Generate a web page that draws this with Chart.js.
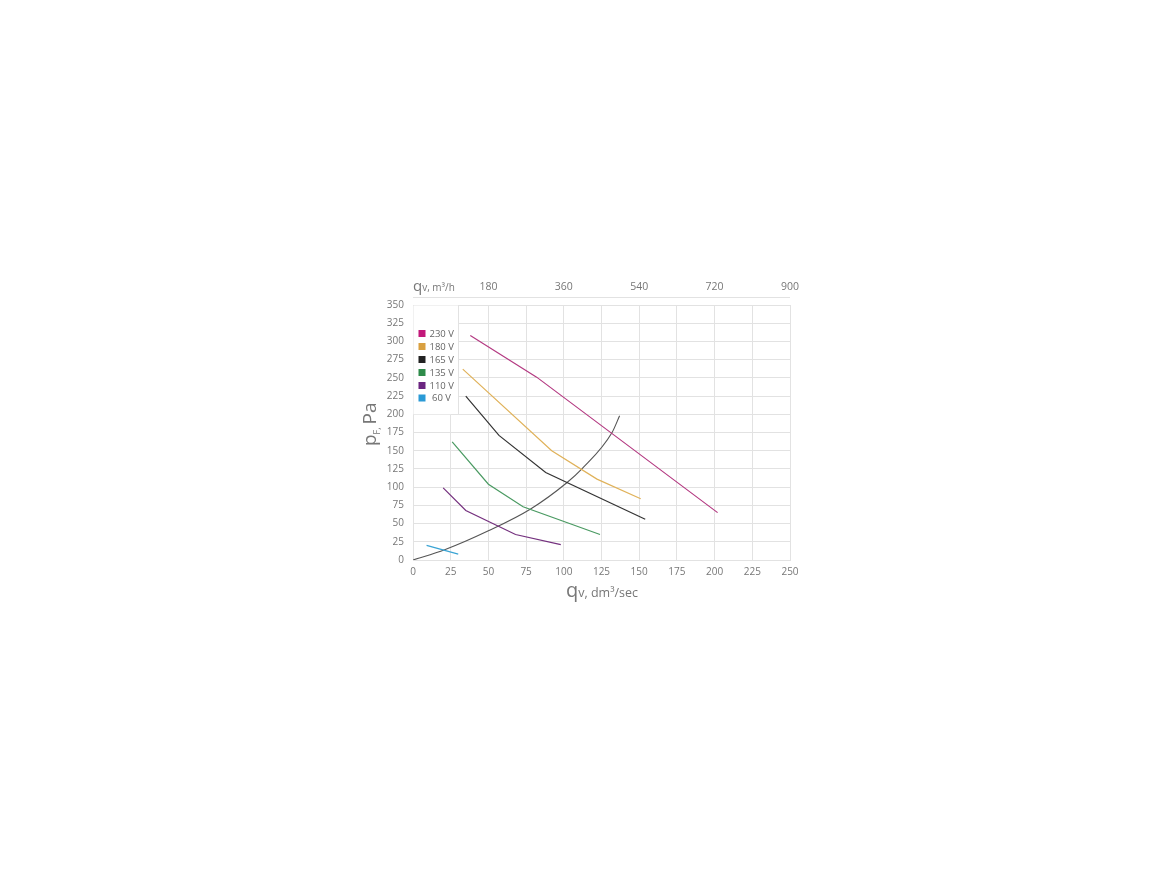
<!DOCTYPE html>
<html>
<head>
<meta charset="utf-8">
<script src="https://cdn.jsdelivr.net/npm/chart.js@4.4.1/dist/chart.umd.min.js"></script>
<style>
html,body{margin:0;padding:0;background:#fff;}
#wrap{position:absolute;left:0;top:0;width:1170px;height:878px;}
</style>
</head>
<body>
<div id="wrap"><canvas id="c" width="1170" height="878"></canvas></div>
<script>
// ---- data ----
const seriesLabels = ['230 V', '180 V', '165 V', '135 V', '110 V', ' 60 V'];
const seriesColors = ['#c2187a', '#d9a040', '#222222', '#2e8b4a', '#6b2580', '#2a9ad6'];
const lineColors   = ['#b43a82', '#e0b25a', '#333333', '#4a9a62', '#74307e', '#3aa4d4'];

const x230 = [38, 82, 202];
const y230 = [308, 251, 65];
const x180 = [33, 92, 122, 151];
const y180 = [262, 150, 111, 84];
const x165 = [35, 57, 88, 154];
const y165 = [225, 171, 120, 56];
const x135 = [26, 50, 73, 124];
const y135 = [162, 104, 73, 35];
const x110 = [20, 35, 68, 98];
const y110 = [99, 68, 35, 21];
const x60  = [9, 30];
const y60  = [20, 8];

const xSys = [0, 21, 50, 78, 102, 112, 132, 137];
const ySys = [0, 14, 40, 70, 106, 125, 175, 198];

const xTicksMax = 250, xStep = 25;
const yTicksMax = 350, yStep = 25;
const topTicksMax = 900, topStep = 180;

// ---- build ----
function pts(xs, ys){ return xs.map((x,i)=>({x:x, y:ys[i]})); }
const allX = [x230, x180, x165, x135, x110, x60];
const allY = [y230, y180, y165, y135, y110, y60];

const datasets = allX.map((xs,i)=>({
  label: seriesLabels[i],
  data: pts(xs, allY[i]),
  borderColor: lineColors[i],
  borderWidth: 1.2,
  pointRadius: 0,
  showLine: true,
  tension: 0,
  fill: false
}));
datasets.push({
  label: 'system',
  data: pts(xSys, ySys),
  borderColor: '#555555',
  borderWidth: 1.1,
  pointRadius: 0,
  showLine: true,
  cubicInterpolationMode: 'monotone',
  fill: false
});

const FONT = '"Open Sans", "DejaVu Sans", sans-serif';
const TXT = '#777777';
const GRID = '#e2e2e2';

const decor = {
  id: 'decor',
  beforeDatasetsDraw(chart){
    const ctx = chart.ctx;
    const xs = chart.scales.x, ys = chart.scales.y;
    // legend box covering grid
    const L = xs.getPixelForValue(0) + 0.5;
    const R = xs.getPixelForValue(30);
    const T = ys.getPixelForValue(350) + 0.5;
    const B = ys.getPixelForValue(200);
    ctx.save();
    ctx.fillStyle = '#ffffff';
    ctx.fillRect(L, T, R - L, B - T);
    ctx.strokeStyle = GRID;
    ctx.lineWidth = 1;
    ctx.beginPath();
    ctx.moveTo(Math.round(R)+0.5, T - 0.5);
    ctx.lineTo(Math.round(R)+0.5, Math.round(B)+0.5);
    ctx.lineTo(xs.getPixelForValue(25), Math.round(B)+0.5);
    ctx.stroke();
    ctx.restore();
  },
  afterDraw(chart){
    const ctx = chart.ctx;
    const xs = chart.scales.x, ys = chart.scales.y;
    ctx.save();
    // top axis line
    ctx.strokeStyle = GRID;
    ctx.lineWidth = 1;
    ctx.beginPath();
    ctx.moveTo(xs.left, 297.5);
    ctx.lineTo(xs.right, 297.5);
    ctx.stroke();

    // legend entries
    ctx.textBaseline = 'middle';
    ctx.textAlign = 'left';
    ctx.font = '9.5px ' + FONT;
    const rowY = [333.5, 346.5, 359.5, 372.5, 385.5, 398];
    seriesLabels.forEach((lab, i) => {
      ctx.fillStyle = seriesColors[i];
      ctx.fillRect(418.5, rowY[i] - 3.5, 7, 7);
      ctx.fillStyle = '#666666';
      ctx.fillText(lab, 429.5, rowY[i] + 0.5);
    });

    // bottom title
    ctx.fillStyle = TXT;
    ctx.textBaseline = 'alphabetic';
    ctx.font = '20px ' + FONT;
    let bx = 566, by = 597;
    ctx.fillText('q', bx, by);
    bx += ctx.measureText('q').width;
    ctx.font = '12.5px ' + FONT;
    ctx.fillText('v, dm³/sec', bx, by);

    // top title
    ctx.font = '15px ' + FONT;
    let tx = 413, ty = 291;
    ctx.fillText('q', tx, ty);
    tx += ctx.measureText('q').width;
    ctx.font = '10px ' + FONT;
    ctx.fillText('v, m³/h', tx, ty);

    // y title (rotated)
    ctx.translate(376, 446);
    ctx.rotate(-Math.PI / 2);
    ctx.font = '19px ' + FONT;
    let px = 0;
    ctx.fillText('p', px, 0);
    px += ctx.measureText('p').width;
    ctx.font = '9px ' + FONT;
    ctx.fillText('F,', px, 4);
    px += ctx.measureText('F,').width + 3;
    ctx.font = '19px ' + FONT;
    ctx.fillText('Pa', px, 0);
    ctx.restore();
  }
};

new Chart(document.getElementById('c'), {
  type: 'scatter',
  data: { datasets },
  options: {
    responsive: false,
    animation: false,
    devicePixelRatio: 1,
    layout: { padding: { left: 0, right: 380, top: 0, bottom: 0 } },
    plugins: { legend: { display: false }, tooltip: { enabled: false } },
    scales: {
      x: {
        type: 'linear', position: 'bottom',
        min: 0, max: xTicksMax,
        afterFit(s){ s.height = 878 - 560; },
        ticks: { stepSize: xStep, color: TXT, font: { family: FONT, size: 10 }, padding: 6, maxRotation: 0 },
        grid: { color: GRID, drawTicks: false },
        border: { color: GRID }
      },
      x2: {
        type: 'linear', position: 'top',
        min: 0, max: topTicksMax,
        afterFit(s){ s.height = 305; },
        ticks: { stepSize: topStep, color: TXT, font: { family: FONT, size: 10.5 }, padding: 12, maxRotation: 0,
                 callback: v => v === 0 ? '' : String(v) },
        grid: { display: false, drawTicks: false },
        border: { display: false }
      },
      y: {
        type: 'linear', position: 'left',
        min: 0, max: yTicksMax,
        afterFit(s){ s.width = 413; },
        ticks: { stepSize: yStep, color: TXT, font: { family: FONT, size: 10 }, padding: 9 },
        grid: { color: GRID, drawTicks: false },
        border: { color: GRID }
      }
    }
  },
  plugins: [decor]
});
</script>
</body>
</html>
